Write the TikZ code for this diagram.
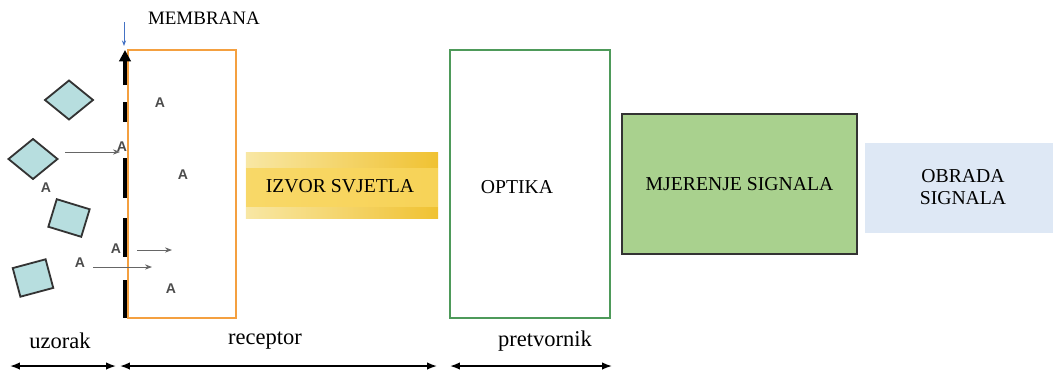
\documentclass[tikz,border=0pt]{standalone}
\usepackage{fontspec}
\setmainfont{Liberation Serif}
\setsansfont{Liberation Sans}
\usetikzlibrary{arrows.meta,shapes.geometric}
\definecolor{recOrange}{HTML}{F4A040}
\definecolor{optGreen}{HTML}{4E9A5A}
\definecolor{mjerGreen}{HTML}{A9D18E}
\definecolor{obrBlue}{HTML}{DEE8F5}
\definecolor{molCyan}{HTML}{B7DEDF}
\definecolor{memBlue}{HTML}{4472C4}
\definecolor{izvLight}{HTML}{F8E7A4}
\definecolor{izvGold}{HTML}{F0C232}
\definecolor{izvBand}{HTML}{F9D65E}
\begin{document}
\begin{tikzpicture}[
  x=0.025cm, y=-0.025cm,
  every node/.style={inner sep=0pt, outer sep=0pt},
  BoxText/.style={font=\rmfamily\fontsize{14}{16}\selectfont},
  PartLbl/.style={font=\rmfamily\fontsize{16}{18}\selectfont},
  MolA/.style={font=\sffamily\bfseries\fontsize{10}{12}\selectfont, text=black!70},
  Mol/.style={draw=black!80, line width=1.3pt, fill=molCyan},
  Flow/.style={draw=black!60, line width=0.6pt, -{Stealth[length=5pt]}},
  Span/.style={line width=1.1pt, {Latex[length=7pt]}-{Latex[length=7pt]}},
  ]
\useasboundingbox (0,0) rectangle (1053,369);

% boxes
\node [draw=recOrange, line width=1.2pt, minimum width=2.7cm, minimum height=6.7cm] (receptor) at (182,184) {};
\node [BoxText, minimum width=4.8cm, minimum height=1.625cm,
       left color=izvLight, right color=izvGold,
       path picture={\fill [izvBand, opacity=0.85]
         ([yshift=-0.375cm]path picture bounding box.north west) rectangle
         ([yshift=0.275cm]path picture bounding box.south east);}] (izvor) at (342,185.5) {};
\node [BoxText] (izvortxt) at (340,186) {IZVOR SVJETLA};
\node [draw=optGreen, line width=1.2pt, minimum width=4cm, minimum height=6.7cm] (optika) at (530,184) {};
\node [BoxText] (optikatxt) at (517,187) {OPTIKA};
\node [BoxText, draw=black!80, line width=1.2pt, fill=mjerGreen, minimum width=5.875cm, minimum height=3.5cm] (mjerenje) at (739.5,184) {MJERENJE SIGNALA};
\node [fill=obrBlue, minimum width=4.7cm, minimum height=2.25cm] (obrada) at (959,188) {};
\node [BoxText, align=center] (obradatxt) at (963,187) {OBRADA\\SIGNALA};

% membrana
\node [BoxText, anchor=west, font=\rmfamily\fontsize{13.5}{15}\selectfont] (membrana) at (148,18) {MEMBRANA};
\coordinate (mtop) at (125,50);
\draw [line width=3pt, -{Triangle[length=8pt,width=8pt]}] (125,85) -- (mtop);
\foreach \a/\b in {102/122,158/198,218/257,280/318}
  \draw [line width=3pt] (125,\a) -- (125,\b);
\coordinate (bluetop) at (124,22);
\draw [memBlue, line width=0.7pt, -{Stealth[length=4pt]}] (bluetop) -- (124,46);

% uzorak
\node [Mol, shape=diamond, minimum width=1.2cm, minimum height=0.975cm] (mol1) at (69,100) {};
\node [Mol, shape=diamond, minimum width=1.225cm, minimum height=1.0cm] (mol2) at (33,159) {};
\node [Mol, rectangle, rotate=-17, minimum width=0.86cm, minimum height=0.72cm] (mol3) at (69,218) {};
\node [Mol, rectangle, rotate=15, minimum width=0.85cm, minimum height=0.74cm] (mol4) at (33,278) {};

\node [MolA] (a1) at (160,103) {A};
\node [MolA] (a2) at (183,175) {A};
\node [MolA] (a3) at (122,147) {A};
\node [MolA] (a4) at (46,188) {A};
\node [MolA] (a5) at (116,249) {A};
\node [MolA] (a6) at (80,263) {A};
\node [MolA] (a7) at (171,289) {A};

\coordinate (f1) at (65,152);
\coordinate (f2) at (120,152);
\coordinate (f3) at (137,250);
\coordinate (f4) at (172,250);
\coordinate (f5) at (93,267);
\coordinate (f6) at (152,267);
\draw [Flow] (f1) -- (f2);
\draw [Flow] (f3) -- (f4);
\draw [Flow] (f5) -- (f6);

% dijelovi
\node [PartLbl] (uzorak) at (60,341) {uzorak};
\node [PartLbl] (receptorlbl) at (265,341) {receptor};
\node [PartLbl] (pretvornik) at (545,341) {pretvornik};
\coordinate (s1) at (10,366);
\coordinate (s2) at (116,366);
\coordinate (s3) at (120,366);
\coordinate (s4) at (437,366);
\coordinate (s5) at (450,366);
\coordinate (s6) at (612,366);
\draw [Span] (s1) -- (s2);
\draw [Span] (s3) -- (s4);
\draw [Span] (s5) -- (s6);
\end{tikzpicture}
\end{document}
